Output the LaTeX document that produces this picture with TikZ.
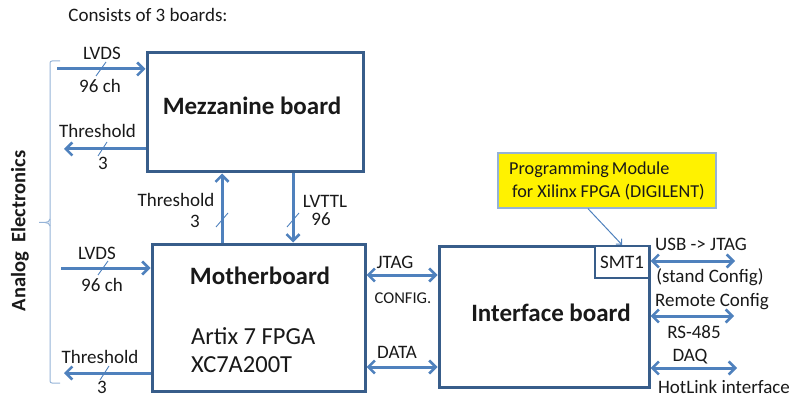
\documentclass[tikz,border=0pt]{standalone}
\usepackage{fontspec}
\setmainfont{Carlito}
\usetikzlibrary{arrows.meta,calc}
\definecolor{boxblue}{RGB}{56,93,138}
\definecolor{arrblue}{RGB}{79,129,189}
\definecolor{paleblue}{RGB}{149,179,215}
\definecolor{inkgray}{RGB}{25,25,25}

\tikzset{
  board/.style={draw=boxblue, line width=3pt, fill=white, inner sep=0pt},
  tip/.tip={Straight Barb[length=6.5pt,width=13pt,line width=2.6pt]},
  sig/.style={draw=arrblue, line width=3pt, -tip},
  sigboth/.style={draw=arrblue, line width=3pt, tip-tip},
  slashmark/.style={draw=arrblue, line width=0.9pt},
  lbl/.style={text=inkgray, inner sep=0pt, font=\fontsize{19}{21}\selectfont},
  smalllbl/.style={text=inkgray, inner sep=0pt, font=\fontsize{16.5}{18}\selectfont},
  title/.style={text=inkgray, inner sep=0pt, font=\fontsize{25}{29}\selectfont\bfseries},
  plain/.style={text=inkgray, inner sep=0pt, font=\fontsize{24.5}{29}\selectfont},
}

\begin{document}
\begin{tikzpicture}[x=1pt,y=-1pt]
\useasboundingbox (0,0) rectangle (795,398);

% boards
\node[board, minimum width=216pt, minimum height=119pt] (mezz) at (255,112.5) {};
\node[board, minimum width=213pt, minimum height=147pt] (mother) at (258.5,317.5) {};
\node[board, minimum width=210pt, minimum height=141pt] (iface) at (544,316.5) {};
\node[draw=boxblue, line width=2.4pt, fill=white, minimum width=54pt, minimum height=32pt, inner sep=0pt,
      text=inkgray, font=\fontsize{19}{21}\selectfont] (smt) at (622,262) {SMT1};
\node[draw=paleblue, line width=1.2pt, fill=yellow, minimum width=218pt, minimum height=55pt,
      inner sep=0pt] (prog) at (607,180.5) {};

% board texts
\node[title] (tmezz) at (252,106) {Mezzanine board};
\node[title] (tmother) at (260,276) {Motherboard};
\node[plain, anchor=west] (tartix) at (191,336) {Artix 7 FPGA};
\node[plain, anchor=west] (txc) at (191,365) {XC7A200T};
\node[title] (tiface) at (551,313) {Interface board};
\node[text=inkgray, inner sep=0pt, font=\fontsize{18.2}{23}\selectfont, align=left, anchor=west]
  (tprog) at (509,181) {Programming\,Module\\[0pt]\hspace{3pt}for Xilinx FPGA (DIGILENT)};

% heading and side bracket
\node[lbl] (thead) at (148,15) {Consists of 3 boards:};
\draw[draw=paleblue, line width=1pt, rounded corners=2pt]
  (60,61) -- (50,61) -- (50,383) -- (60,383);
\draw[draw=paleblue, line width=1pt] (50,219) to[out=-90,in=0] (45,222.5) -- (39,222.5);
\draw[draw=paleblue, line width=1pt] (50,226) to[out=90,in=0] (45,222.5);
\node[rotate=90, text=inkgray, inner sep=0pt, font=\fontsize{20.5}{24}\selectfont\bfseries] (tanalog)
  at (20,231) {Analog\ \ Electronics};

% free ends of the outside connectors
\coordinate (inA) at (57,69);
\coordinate (outA) at (64,149);
\coordinate (inB) at (61,268);
\coordinate (outB) at (64,373);
\coordinate (usbEnd) at (735,261);
\coordinate (rsEnd) at (734,316);
\coordinate (daqEnd) at (737,368);
\coordinate (xThr) at (222,0);
\coordinate (xTtl) at (293,0);
\coordinate (yJtag) at (0,275);
\coordinate (yData) at (0,367);

% mezzanine I/O
\draw[sig] (inA) -- (inA -| mezz.west);
\draw[sig] (outA -| mezz.west) -- (outA);
\node[lbl] (lLvdsA) at (102,53) {LVDS};
\node[lbl] (lChA) at (100,86) {96 ch};
\node[lbl] (lThrA) at (97.5,131) {Threshold};
\node[lbl] (lThrA3) at (103,163) {3};
\draw[slashmark] (106,62) -- (96,76);
\draw[slashmark] (107,142) -- (98,156);

% motherboard I/O
\draw[sig] (inB) -- (inB -| mother.west);
\draw[sig] (outB -| mother.west) -- (outB);
\node[lbl] (lLvdsB) at (97,253) {LVDS};
\node[lbl] (lChB) at (102,285) {96 ch};
\node[lbl] (lThrB) at (100,357) {Threshold};
\node[lbl] (lThrB3) at (102,387) {3};
\draw[slashmark] (108,261) -- (98,275);
\draw[slashmark] (109,366) -- (100,380);

% motherboard <-> mezzanine
\draw[sig] (mother.north -| xThr) -- (mezz.south -| xThr);
\draw[sig] (mezz.south -| xTtl) -- (mother.north -| xTtl);
\node[lbl] (lThrC) at (176,200) {Threshold};
\node[lbl] (lThrC3) at (195,221) {3};
\node[lbl] (lTtl) at (325,201) {LVTTL};
\node[lbl] (lTtl96) at (321,219) {96};
\draw[slashmark] (228,213) -- (216,227);
\draw[slashmark] (299,213) -- (287,227);

% motherboard <-> interface board
\draw[sigboth] (mother.east |- yJtag) -- (iface.west |- yJtag);
\draw[sigboth] (mother.east |- yData) -- (iface.west |- yData);
\node[lbl] (lJtag) at (395,262) {JTAG};
\node[smalllbl] (lConf) at (403,298) {CONFIG.};
\node[lbl] (lData) at (397,352) {DATA};

% interface board outside links
\draw[sigboth] (usbEnd -| iface.east) -- (usbEnd);
\draw[sigboth] (rsEnd -| iface.east) -- (rsEnd);
\draw[sigboth] (daqEnd -| iface.east) -- (daqEnd);
\node[lbl] (lUsb) at (701,244) {USB -> JTAG};
\node[lbl] (lStand) at (710,277) {(stand Config)};
\node[lbl] (lRemote) at (712,302) {Remote Config};
\node[lbl] (lRs) at (694,332) {RS-485};
\node[lbl] (lDaq) at (690,357) {DAQ};
\node[lbl] (lHot) at (724,387) {HotLink interface};

% programming module feeds SMT1
\draw[draw=arrblue, line width=1pt, -{Straight Barb[length=4pt,width=8pt,line width=1pt]}]
  ($(prog.south west)!0.413!(prog.south east)$) -- (smt.north);
\end{tikzpicture}
\end{document}
